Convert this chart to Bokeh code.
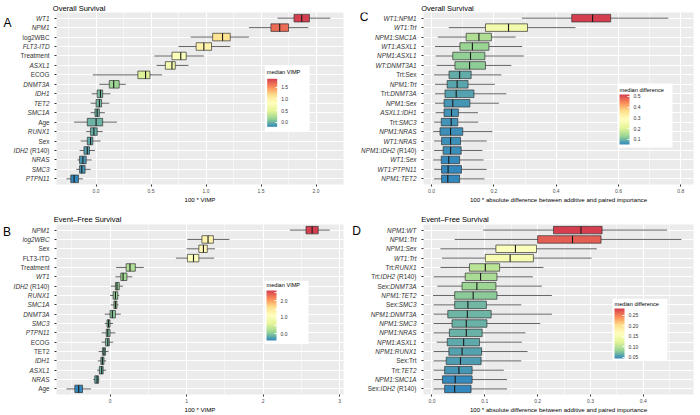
import numpy as np
from bokeh.plotting import figure
from bokeh.models import (Range1d, FixedTicker, PrintfTickFormatter, ColorBar,
                          LinearColorMapper, ColumnDataSource, BoxAnnotation, Label)
from bokeh.layouts import gridplot
from bokeh.transform import transform
from bokeh.core.properties import value
from bokeh.embed import file_html
from bokeh.resources import INLINE

# ------------------------------------------------------------------ data
# Panel A: Overall Survival, 100 * VIMP (top to bottom); *...* marks italic text
a_labels = ["*WT1*", "*NPM1*", "log2WBC", "*FLT3-ITD*", "Treatment", "*ASXL1*", "ECOG",
            "*DNMT3A*", "*IDH1*", "*TET2*", "*SMC1A*", "Age", "*RUNX1*", "Sex",
            "*IDH2* (R140)", "*NRAS*", "*SMC3*", "*PTPN11*"]
a_wlo = [1.65, 1.39, 0.86, 0.75, 0.53, 0.55, -0.03, 0.03, -0.04, -0.05, -0.05, -0.20, -0.09, -0.14, -0.15, -0.17, -0.18, -0.27]
a_q1 = [1.80, 1.59, 1.06, 0.91, 0.69, 0.63, 0.38, 0.12, 0.01, 0.00, -0.01, -0.08, -0.05, -0.08, -0.11, -0.15, -0.15, -0.23]
a_med = [1.87, 1.67, 1.15, 0.98, 0.77, 0.69, 0.45, 0.16, 0.04, 0.03, 0.01, 0.00, -0.02, -0.05, -0.08, -0.12, -0.13, -0.20]
a_q3 = [1.94, 1.75, 1.22, 1.05, 0.82, 0.72, 0.49, 0.21, 0.06, 0.05, 0.03, 0.06, 0.01, -0.03, -0.06, -0.09, -0.10, -0.16]
a_whi = [2.13, 1.93, 1.39, 1.22, 0.98, 0.84, 0.60, 0.27, 0.13, 0.12, 0.08, 0.19, 0.06, 0.04, -0.01, -0.04, -0.05, -0.12]

# Panel B: Event-Free Survival, 100 * VIMP
b_labels = ["*NPM1*", "*log2WBC*", "Sex", "FLT3-ITD", "Treatment", "*WT1*", "*IDH2* (R140)",
            "*RUNX1*", "*SMC1A*", "*DNMT3A*", "*SMC3*", "*PTPN11*", "ECOG", "TET2", "*IDH1*",
            "*ASXL1*", "*NRAS*", "Age"]
b_wlo = [2.35, 1.01, 1.00, 0.86, 0.08, 0.07, 0.01, 0.00, 0.01, -0.07, -0.07, -0.11, -0.11, -0.15, -0.16, -0.17, -0.22, -0.57]
b_q1 = [2.56, 1.20, 1.16, 1.01, 0.21, 0.14, 0.07, 0.04, 0.05, 0.00, -0.04, -0.05, -0.06, -0.10, -0.12, -0.14, -0.20, -0.46]
b_med = [2.64, 1.28, 1.22, 1.09, 0.26, 0.17, 0.09, 0.07, 0.07, 0.03, -0.02, -0.03, -0.03, -0.08, -0.10, -0.11, -0.17, -0.41]
b_q3 = [2.72, 1.35, 1.27, 1.16, 0.33, 0.22, 0.12, 0.10, 0.09, 0.07, 0.00, 0.00, -0.01, -0.06, -0.08, -0.09, -0.15, -0.36]
b_whi = [2.87, 1.56, 1.37, 1.36, 0.44, 0.29, 0.17, 0.12, 0.11, 0.14, 0.04, 0.07, 0.04, -0.02, -0.05, -0.05, -0.14, -0.25]

# Panel C: Overall Survival, 100 * |additive - paired importance|
c_labels = ["*WT1:NPM1*", "*WT1:Trt*", "*NPM1:SMC1A*", "*WT1:ASXL1*", "*NPM1:ASXL1*", "*WT:DNMT3A1*",
            "Trt:Sex", "*NPM1:Trt*", "Trt:*DNMT3A*", "*NPM1:Sex*", "*ASXL1:IDH1*", "Trt:*SMC3*",
            "*NPM1:NRAS*", "*WT1:NRAS*", "*NPM1:IDH2* (R140)", "*WT1:Sex*", "*WT1:PTPN11*", "*NPM1:TET2*"]
c_wlo = [0.290, 0.055, 0.020, 0.011, 0.013, 0.016, 0.008, 0.011, 0.011, 0.011, 0.013, 0.008, 0.005, 0.008, 0.008, 0.005, 0.008, 0.008]
c_q1 = [0.450, 0.173, 0.111, 0.091, 0.068, 0.075, 0.056, 0.050, 0.043, 0.040, 0.040, 0.031, 0.027, 0.032, 0.037, 0.031, 0.032, 0.032]
c_med = [0.517, 0.247, 0.152, 0.131, 0.125, 0.122, 0.090, 0.082, 0.079, 0.068, 0.064, 0.063, 0.061, 0.061, 0.061, 0.055, 0.053, 0.052]
c_q3 = [0.575, 0.308, 0.192, 0.184, 0.171, 0.173, 0.127, 0.117, 0.136, 0.123, 0.086, 0.084, 0.100, 0.093, 0.095, 0.090, 0.096, 0.090]
c_whi = [0.760, 0.462, 0.270, 0.291, 0.296, 0.256, 0.224, 0.203, 0.240, 0.216, 0.149, 0.150, 0.195, 0.177, 0.163, 0.167, 0.177, 0.170]

# Panel D: Event-Free Survival, 100 * |additive - paired importance|
d_labels = ["*NPM1:WT*", "*NPM1:Trt*", "*NPM1:Sex*", "*WT1:Trt*", "Trt:*RUNX1*", "Trt:*IDH2* (R140)",
            "Sex:*DNMT3A*", "*NPM1:TET2*", "Sex:*SMC3*", "*NPM1:DNMT3A*", "*NPM1:SMC3*", "*NPM1:NRAS*",
            "*NPM1:ASXL1*", "*NPM1:RUNX1*", "Sex:Trt", "Trt:*TET2*", "*NPM1:SMC1A*", "Sex:*IDH2* (R140)"]
d_wlo = [0.097, 0.043, 0.016, 0.019, 0.016, 0.003, 0.010, 0.002, 0.003, 0.003, 0.003, 0.003, 0.009, 0.003, 0.003, 0.003, 0.003, 0.003]
d_q1 = [0.230, 0.200, 0.121, 0.101, 0.071, 0.063, 0.057, 0.043, 0.043, 0.030, 0.038, 0.033, 0.029, 0.032, 0.027, 0.024, 0.020, 0.024]
d_med = [0.282, 0.266, 0.158, 0.148, 0.101, 0.092, 0.085, 0.078, 0.068, 0.067, 0.065, 0.065, 0.060, 0.057, 0.054, 0.051, 0.044, 0.043]
d_q3 = [0.322, 0.320, 0.198, 0.192, 0.128, 0.123, 0.121, 0.123, 0.103, 0.112, 0.104, 0.095, 0.090, 0.094, 0.093, 0.076, 0.076, 0.074]
d_whi = [0.445, 0.472, 0.312, 0.302, 0.211, 0.191, 0.208, 0.227, 0.169, 0.227, 0.205, 0.177, 0.170, 0.181, 0.169, 0.136, 0.142, 0.142]

a_ticks = [0.0, 0.5, 1.0, 1.5, 2.0]
b_ticks = [0, 1, 2, 3]
c_ticks = [0.0, 0.2, 0.4, 0.6, 0.8]
d_ticks = [0.0, 0.1, 0.2, 0.3, 0.4]
a_cb_ticks = [0.0, 0.5, 1.0, 1.5]
b_cb_ticks = [0.0, 0.5, 1.0, 1.5, 2.0, 2.5]
c_cb_ticks = [0.1, 0.2, 0.3, 0.4, 0.5]
d_cb_ticks = [0.05, 0.10, 0.15, 0.20, 0.25]

# ------------------------------------------------------------------ style
FONT = "Liberation Sans"
SPECTRAL_R = ["#3288BD", "#99D594", "#E6F598", "#FFFFBF", "#FEE08B", "#FC8D59", "#D53E4F"]


def make_palette(colors, n=256):
    rgb = np.array([[int(c[i:i + 2], 16) for i in (1, 3, 5)] for c in colors], float)
    xs = np.linspace(0, 1, len(colors))
    out = []
    for t in np.linspace(0, 1, n):
        r, g, b = (np.interp(t, xs, rgb[:, k]) for k in range(3))
        out.append("#%02x%02x%02x" % (int(round(r)), int(round(g)), int(round(b))))
    return out


PAL = make_palette(SPECTRAL_R)

AW = {**{c: 667 for c in "ABEKPSVXY"}, **{c: 722 for c in "CDHNRU"}, "F": 611, "G": 778, "I": 278,
      "J": 500, "L": 556, "M": 833, "O": 778, "Q": 778, "T": 611, "W": 944, "Z": 611,
      **{c: 556 for c in "abdeghnopqu0123456789"}, "c": 500, "f": 278, "i": 222, "j": 222,
      "k": 500, "l": 222, "m": 833, "r": 333, "s": 500, "t": 278, "v": 500, "w": 722, "x": 500,
      "y": 500, "z": 500, " ": 278, ":": 278, "(": 333, ")": 333, "-": 333, "*": 389, ".": 278}


def text_w(s, fs):
    return sum(AW.get(ch, 556) for ch in s) * fs / 1000.0


YL_FS = 6.4


def label_fig(labels, cfg, yrange):
    """Narrow figure left of a panel holding the mixed-style row labels and the panel letter.
    Its frame is aligned with the panel's frame by the grid, so it shares the y range."""
    n = len(labels)
    W = cfg["LW"]
    fh = cfg["H"] - cfg["T"] - cfg["B"]
    u = (n + 0.2) / fh
    q = figure(width=W, height=cfg["H"], x_range=Range1d(0, W), y_range=yrange,
               output_backend="svg", toolbar_location=None, x_axis_location=None,
               y_axis_location=None, min_border=0, min_border_left=0, min_border_right=0,
               min_border_top=0, min_border_bottom=0)
    q.outline_line_color = None
    q.grid.visible = False
    q.background_fill_color = "white"
    xr_right = W + cfg["L"] - 7
    it = dict(x=[], y=[], text=[])
    up = dict(x=[], y=[], text=[])
    for i, lab in enumerate(labels):
        y = float(n - i)
        parts = lab.split("*")
        off = 0.0
        for k in range(len(parts) - 1, -1, -1):
            seg = parts[k]
            if seg == "":
                continue
            pad = text_w(seg[len(seg.rstrip()):], YL_FS)
            d = it if k % 2 == 1 else up
            d["x"].append(xr_right - off - pad)
            d["y"].append(y)
            d["text"].append(seg.strip())
            off += text_w(seg, YL_FS)
    for d, st in ((it, "italic"), (up, "normal")):
        if d["x"]:
            q.text(x="x", y="y", text="text", source=ColumnDataSource(d), text_align="right",
                   text_baseline="middle", text_font=value(FONT),
                   text_font_size=value("%.1fpx" % YL_FS),
                   text_font_style=value(st), text_color="#333333")
    lx, ly = cfg["letter_xy"]
    q.text(x=[lx], y=[n + 0.6 + ly * u], text=[cfg["letter"]], text_align="center",
           text_baseline="middle", text_font=value(FONT), text_font_size=value("12px"),
           text_color="black")
    return q


def build(labels, wlo, q1, med, q3, whi, cfg):
    n = len(labels)
    ys = [float(n - i) for i in range(n)]
    src = ColumnDataSource(dict(y=ys, y0=[y - 0.4 for y in ys], y1=[y + 0.4 for y in ys],
                                wlo=wlo, q1=q1, med=med, q3=q3, whi=whi))
    mapper = LinearColorMapper(palette=PAL, low=min(med), high=max(med))
    xr = cfg["xr"]
    W, H, L, R, T, B = cfg["W"], cfg["H"], cfg["L"], cfg["R"], cfg["T"], cfg["B"]
    yrange = Range1d(0.4, n + 0.6)
    p = figure(width=W, height=H, x_range=Range1d(*xr), y_range=yrange,
               output_backend="svg", toolbar_location=None,
               min_border_left=L, min_border_right=R, min_border_top=T, min_border_bottom=B)
    p.background_fill_color = "#EBEBEB"
    p.border_fill_color = "white"
    p.outline_line_color = None

    p.title.text = cfg["title"]
    p.title.align = "left"
    p.title.offset = cfg["toff"]
    p.title.standoff = cfg["tstand"]
    p.title.text_font = FONT
    p.title.text_font_size = "7.5px"
    p.title.text_font_style = "normal"
    p.title.text_color = "black"

    p.segment(x0="wlo", y0="y", x1="whi", y1="y", source=src, line_color="#555555", line_width=0.9)
    p.hbar(y="y", left="q1", right="q3", height=0.8, source=src,
           fill_color=transform("med", mapper), line_color="#333333", line_width=0.7)
    p.segment(x0="med", y0="y0", x1="med", y1="y1", source=src, line_color="#1a1a1a", line_width=1.1)

    xa = p.xaxis[0]
    xa.ticker = FixedTicker(ticks=cfg["ticks"], minor_ticks=cfg["minor"])
    xa.formatter = PrintfTickFormatter(format=cfg["fmt"])
    xa.axis_line_color = None
    xa.major_tick_line_color = "#333333"
    xa.major_tick_out = 2
    xa.major_tick_in = 0
    xa.minor_tick_line_color = None
    xa.major_label_text_font = FONT
    xa.major_label_text_font_size = "5px"
    xa.major_label_text_color = "#4D4D4D"
    xa.major_label_text_line_height = 1.0
    xa.major_label_standoff = 0
    xa.axis_label = cfg["xlabel"]
    xa.axis_label_text_font = FONT
    xa.axis_label_text_font_size = "6.1px"
    xa.axis_label_text_font_style = "normal"
    xa.axis_label_text_color = "black"
    xa.axis_label_text_line_height = 1.0
    xa.axis_label_standoff = 0

    ya = p.yaxis[0]
    ya.ticker = FixedTicker(ticks=ys)
    ya.major_label_overrides = {int(y): "" for y in ys}
    ya.axis_line_color = None
    ya.major_tick_line_color = "#333333"
    ya.major_tick_out = 2
    ya.major_tick_in = 0
    ya.minor_tick_line_color = None
    ya.major_label_standoff = 0

    p.xgrid.grid_line_color = "white"
    p.xgrid.grid_line_width = 1
    p.xgrid.minor_grid_line_color = "white"
    p.xgrid.minor_grid_line_width = 0.5
    p.ygrid.grid_line_color = "white"
    p.ygrid.grid_line_width = 1

    # legend (positions given in pixels relative to the frame's top-left corner)
    fw = W - L - R
    fh = H - T - B

    def dx(px):
        return xr[0] + px / fw * (xr[1] - xr[0])

    def dy(py):
        return (n + 0.6) - py / fh * (n + 0.2)

    bx0, by0, bx1, by1 = cfg["box"]
    p.add_layout(BoxAnnotation(left=dx(bx0), right=dx(bx1), top=dy(by0), bottom=dy(by1),
                               fill_color="white", fill_alpha=1.0, line_color=None))
    tx, ty = cfg["cbtitle_xy"]
    p.add_layout(Label(x=dx(tx), y=dy(ty), text=cfg["cbtitle"], text_align="left",
                       text_baseline="middle", text_font=FONT, text_font_size="5.6px",
                       text_color="black"))
    cx, cy, ch = cfg["bar"]
    cb = ColorBar(color_mapper=mapper, location=(cx, fh - cy - ch), orientation="vertical",
                  width=10, height=ch, padding=0, title=None,
                  ticker=FixedTicker(ticks=cfg["cbticks"]),
                  formatter=PrintfTickFormatter(format=cfg["cbfmt"]),
                  major_label_text_font=FONT, major_label_text_font_size="5px",
                  major_label_text_color="#333333", label_standoff=4,
                  major_tick_line_color="white", major_tick_in=2, major_tick_out=0,
                  minor_tick_line_color=None, bar_line_color=None,
                  background_fill_alpha=0.0, border_line_color=None)
    p.add_layout(cb)
    return p, yrange


XL_AB = "100 * VIMP"
XL_CD = "100 * absolute difference between additive and paired importance"

# top row (height 205): frames y 12..184 ; bottom row (205..415): frames y 224..396
cfgA = dict(W=298, H=205, L=4, R=6, T=12, B=21, LW=52, xr=(-0.36, 2.25), ticks=a_ticks,
            minor=[-0.25, 0.25, 0.75, 1.25, 1.75], fmt="%.1f", xlabel=XL_AB,
            title="Overall Survival", toff=-3.7, tstand=0, letter="A", letter_xy=(7, -10),
            box=(209, 53, 254, 119), cbtitle="median VIMP", cbtitle_xy=(211, 59.7),
            bar=(210.7, 66.3, 48), cbticks=a_cb_ticks, cbfmt="%.1f")
cfgB = dict(W=298, H=210, L=4, R=7, T=19, B=19, LW=52, xr=(-0.70, 3.05), ticks=b_ticks,
            minor=[-0.5, 0.5, 1.5, 2.5], fmt="%d", xlabel=XL_AB,
            title="Event\u2013Free Survival", toff=-2.7, tstand=1, letter="B", letter_xy=(6.5, -8),
            box=(208, 57, 252, 121), cbtitle="median VIMP", cbtitle_xy=(210, 61.7),
            bar=(210, 68, 50), cbticks=b_cb_ticks, cbfmt="%.1f")
cfgC = dict(W=281, H=205, L=4, R=7, T=12, B=21, LW=69, xr=(-0.026, 0.841), ticks=c_ticks,
            minor=[0.1, 0.3, 0.5, 0.7], fmt="%.1f", xlabel=XL_CD,
            title="Overall Survival", toff=-2.3, tstand=0, letter="C", letter_xy=(13.5, -4),
            box=(194, 71, 249, 135), cbtitle="median difference", cbtitle_xy=(196, 77),
            bar=(196, 82, 50), cbticks=c_cb_ticks, cbfmt="%.1f")
cfgD = dict(W=281, H=210, L=4, R=7, T=19, B=19, LW=69, xr=(-0.016, 0.495), ticks=d_ticks,
            minor=[0.05, 0.15, 0.25, 0.35, 0.45], fmt="%.1f", xlabel=XL_CD,
            title="Event\u2013Free Survival", toff=-2.3, tstand=1, letter="D", letter_xy=(6, -7),
            box=(189, 75, 244, 138), cbtitle="median difference", cbtitle_xy=(191, 80),
            bar=(191, 86, 50), cbticks=d_cb_ticks, cbfmt="%.2f")

pA, yA = build(a_labels, a_wlo, a_q1, a_med, a_q3, a_whi, cfgA)
pB, yB = build(b_labels, b_wlo, b_q1, b_med, b_q3, b_whi, cfgB)
pC, yC = build(c_labels, c_wlo, c_q1, c_med, c_q3, c_whi, cfgC)
pD, yD = build(d_labels, d_wlo, d_q1, d_med, d_q3, d_whi, cfgD)
lA = label_fig(a_labels, cfgA, yA)
lB = label_fig(b_labels, cfgB, yB)
lC = label_fig(c_labels, cfgC, yC)
lD = label_fig(d_labels, cfgD, yD)

grid = gridplot([[lA, pA, lC, pC], [lB, pB, lD, pD]], toolbar_location=None)

open("out.html", "w").write(file_html(grid, INLINE))
